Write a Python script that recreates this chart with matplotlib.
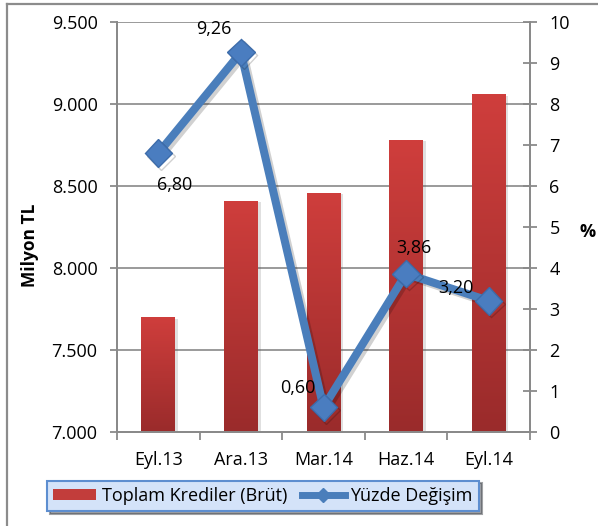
import numpy as np
import matplotlib
matplotlib.use("Agg")
import matplotlib.pyplot as plt
from matplotlib.lines import Line2D
from matplotlib.patches import Patch
import matplotlib.patheffects as pe
from matplotlib.ticker import FixedLocator, FuncFormatter
from matplotlib.colors import LinearSegmentedColormap

plt.rcParams['font.family'] = ['Open Sans', 'DejaVu Sans']

categories = ["Eyl.13", "Ara.13", "Mar.14", "Haz.14", "Eyl.14"]
krediler = [7700, 8410, 8460, 8780, 9060]
yuzde = [6.80, 9.26, 0.60, 3.86, 3.20]
yuzde_labels = ["6,80", "9,26", "0,60", "3,86", "3,20"]
left_ticks = [7000, 7500, 8000, 8500, 9000, 9500]
right_ticks = list(range(0, 11))

W, H = 598, 526
fig = plt.figure(figsize=(W / 100, H / 100), dpi=100)
L, R, T, B = 117, 530, 22, 432
ax1 = fig.add_axes([L / W, 1 - B / H, (R - L) / W, (B - T) / H])
ax2 = ax1.twinx()

grey = '#8a8a8a'
x = np.arange(len(categories))

# bars with gradient
bars = ax1.bar(x, krediler, width=0.41, color='#c23d3b', zorder=2,
               path_effects=[pe.SimplePatchShadow(offset=(2, -1), alpha=0.18, shadow_rgbFace='#555555'), pe.Normal()])
grad = np.linspace(0, 1, 256).reshape(-1, 1)
cmap = LinearSegmentedColormap.from_list('rg', ['#9a2b2b', '#cf3e3c'])
for b in bars:
    x0 = b.get_x()
    im = ax1.imshow(grad, extent=[x0, x0 + b.get_width(), 7000, b.get_height()],
                    origin='lower', cmap=cmap, aspect='auto', zorder=3)
    im.set_clip_path(b)

ax1.set_xlim(-0.5, len(categories) - 0.5)
ax1.set_ylim(7000, 9500)
ax1.yaxis.set_major_locator(FixedLocator(left_ticks))
ax1.yaxis.set_major_formatter(FuncFormatter(lambda v, p: f"{int(v):,}".replace(",", ".")))
ax1.grid(axis='y', color='#9a9a9a', lw=1.4, zorder=0)
ax1.set_axisbelow(True)
ax1.set_xticks(x)
ax1.set_xticklabels(categories)
ax1.set_xticks(np.arange(-0.5, len(categories)), minor=True)
ax1.tick_params(axis='x', which='major', length=0, pad=14, labelsize=13)
ax1.tick_params(axis='x', which='minor', length=5.5, width=1.3, color=grey, direction='out')
ax1.tick_params(axis='y', length=5, width=1.3, color=grey, direction='out', pad=9, labelsize=13)

ax2.set_ylim(0, 10)
ax2.yaxis.set_major_locator(FixedLocator(right_ticks))
ax2.tick_params(axis='y', length=10, width=1.3, color=grey, direction='inout', pad=9, labelsize=13)

for a in (ax1, ax2):
    a.spines['top'].set_visible(False)
    for s in ['left', 'right', 'bottom']:
        a.spines[s].set_color(grey)
        a.spines[s].set_linewidth(1.4)

blue = '#4a7ebb'
ax2.plot(x, yuzde, color=blue, lw=5.8, marker='D', markersize=14,
         markerfacecolor='#4a7dc0', markeredgecolor='#3d6caa', markeredgewidth=1,
         solid_joinstyle='miter', zorder=5,
         path_effects=[pe.SimpleLineShadow(offset=(2, -2), alpha=0.18), pe.Normal()])

offsets = [(16, -32), (-27, 23), (-26, 19), (8, 26), (-33, 13)]
for xi, yi, lab, off in zip(x, yuzde, yuzde_labels, offsets):
    ax2.annotate(lab, (xi, yi), xytext=off, textcoords='offset pixels',
                 ha='center', va='center', fontsize=13, zorder=6)

fig.text(30 / W, 1 - 245 / H, 'Milyon TL', rotation=90, ha='center', va='center',
         fontsize=12.5, fontweight='bold')
fig.text(588 / W, 1 - 232 / H, '%', ha='center', va='center', fontsize=13, fontweight='bold')

# legend
handles = [Patch(facecolor='#c23d3b', edgecolor='none'),
           Line2D([], [], color=blue, lw=5, marker='D', markersize=7)]
leg = fig.legend(handles, ['Toplam Krediler (Brüt)', 'Yüzde Değişim'],
                 loc='center', bbox_to_anchor=(263 / W, 1 - 496 / H), ncol=2,
                 fontsize=13, frameon=True, fancybox=False, shadow=True,
                 handlelength=2.4, handleheight=0.6, columnspacing=0.8, handletextpad=0.3,
                 borderpad=0.35, borderaxespad=0)
fr = leg.get_frame()
fr.set_facecolor('#d4e3f9')
fr.set_edgecolor('#5d8ed0')
fr.set_linewidth(1.5)

# outer frame
fig.add_artist(Line2D([7 / W, 7 / W], [0, 1 - 4 / H], color='#8c8c8c', lw=1.6))
fig.add_artist(Line2D([7 / W, 1], [1 - 4 / H, 1 - 4 / H], color='#8c8c8c', lw=1.6))

fig.savefig('out.png', dpi=100)
